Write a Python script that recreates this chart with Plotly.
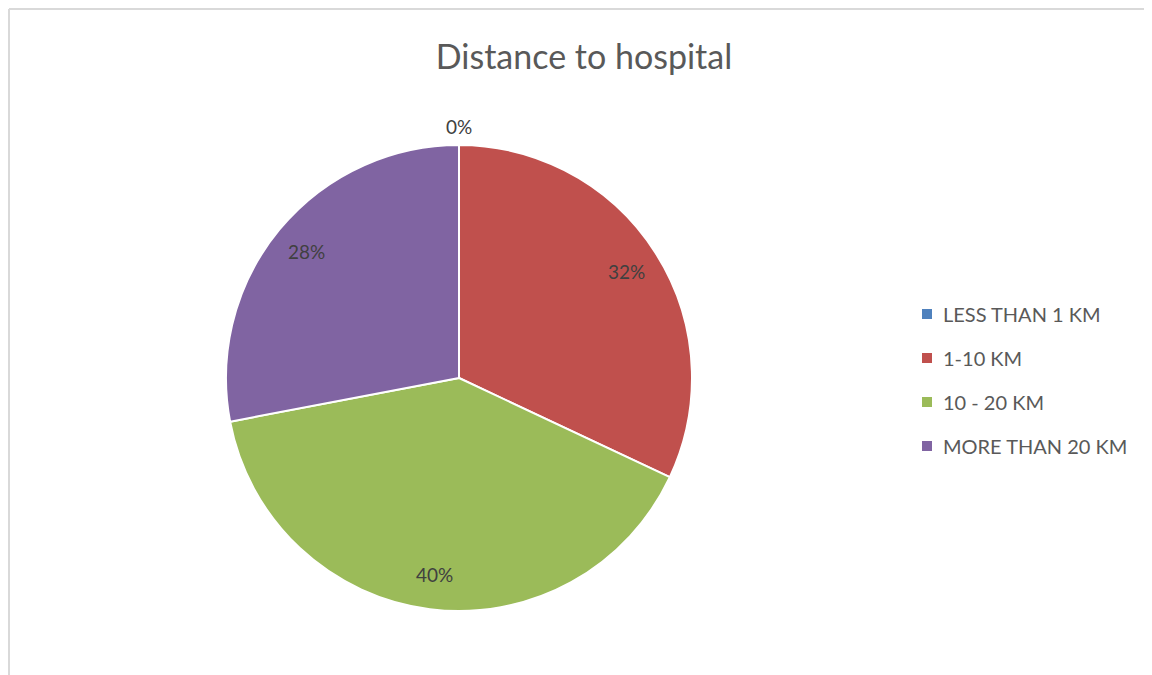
import math
import plotly.graph_objects as go

categories = ["LESS THAN 1 KM", "1-10 KM", "10 - 20 KM", "MORE THAN 20 KM"]
values = [0, 32, 40, 28]
colors = ["#4F81BD", "#C0504D", "#9BBB59", "#8064A2"]
title_text = "Distance to hospital"

W, H = 1152, 675
OFF = 8  # page body margin offset in the browser
FONT = "Lato"
TXT = "#595959"
LBL = "#404040"


def px2x(x):
    return (x - OFF) / W


def px2y(y):
    return 1 - (y - OFF) / H


# pie geometry (target pixels in page)
cx, cy, R = 459, 378, 233

fig = go.Figure()
fig.add_trace(go.Pie(
    labels=categories, values=values, sort=False, direction="clockwise",
    rotation=0, marker=dict(colors=colors, line=dict(color="white", width=2)),
    textinfo="none", hoverinfo="label+percent", showlegend=False,
    domain=dict(x=[px2x(cx - R), px2x(cx + R)], y=[px2y(cy + R), px2y(cy - R)]),
))

annotations = []
total = sum(values)
start = 0.0
for cat, v in zip(categories, values):
    frac = v / total
    mid = (start + frac / 2) * 2 * math.pi
    r = 1.08 * R if v == 0 else 0.85 * R
    px = cx + r * math.sin(mid)
    py = cy - r * math.cos(mid)
    annotations.append(dict(
        x=px2x(px), y=px2y(py), xref="paper", yref="paper", showarrow=False,
        text=f"{round(frac * 100)}%", font=dict(family=FONT, size=19, color=LBL),
        xanchor="center", yanchor="middle"))
    start += frac

shapes = []
# chart border (light gray)
bx, by = 9, 9
shapes.append(dict(type="line", xref="paper", yref="paper", x0=px2x(bx), x1=1.0, y0=px2y(by), y1=px2y(by),
                   line=dict(color="#D9D9D9", width=2)))
shapes.append(dict(type="line", xref="paper", yref="paper", x0=px2x(bx), x1=px2x(bx), y0=0, y1=px2y(by),
                   line=dict(color="#D9D9D9", width=2)))

# legend
leg_x, leg_y0, leg_dy, sq = 922, 314, 44, 10
for i, (cat, col) in enumerate(zip(categories, colors)):
    yy = leg_y0 + i * leg_dy
    shapes.append(dict(type="rect", xref="paper", yref="paper",
                       x0=px2x(leg_x), x1=px2x(leg_x + sq),
                       y0=px2y(yy + sq / 2), y1=px2y(yy - sq / 2),
                       fillcolor=col, line=dict(width=0)))
    annotations.append(dict(x=px2x(leg_x + 19), y=px2y(yy), xref="paper", yref="paper",
                            showarrow=False, text=cat, xanchor="left", yanchor="middle",
                            font=dict(family=FONT, size=20, color=TXT)))

fig.update_layout(
    width=W, height=H, margin=dict(l=0, r=0, t=0, b=0),
    paper_bgcolor="white", plot_bgcolor="white",
    title=dict(text=title_text, x=px2x(584), xanchor="center", y=px2y(57), yanchor="middle",
               font=dict(family=FONT, size=34, color=TXT)),
    annotations=annotations, shapes=shapes, showlegend=False,
)
fig.write_html("out.html")
